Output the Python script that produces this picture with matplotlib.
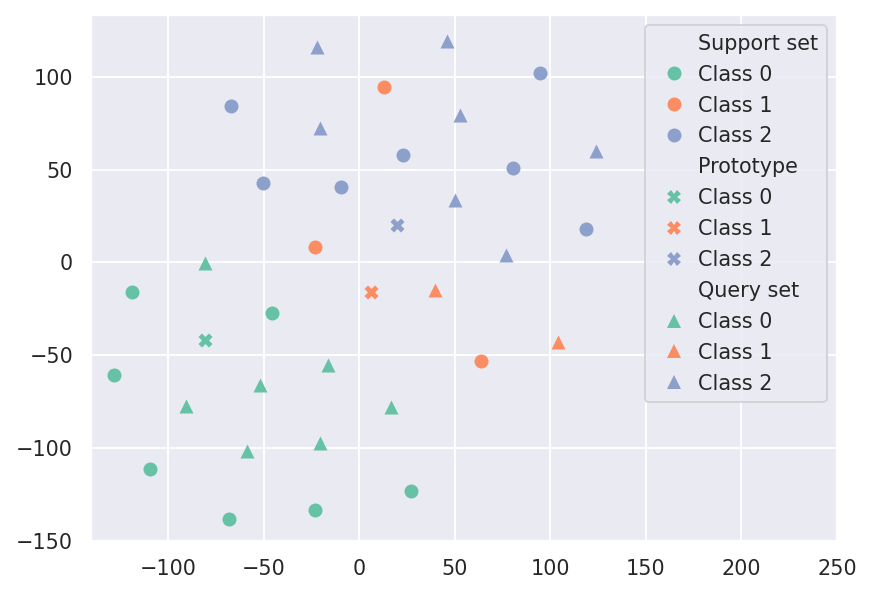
import numpy as np
import matplotlib
matplotlib.use("Agg")
import matplotlib.pyplot as plt
import seaborn as sns
from matplotlib.lines import Line2D

sns.set_theme(style="darkgrid")

classes = ["Class 0", "Class 1", "Class 2"]

# support set points per class
support_x = [
    [-119.1, -45.8, -128.5, -109.6, -68.3, -23.2, 27.0],
    [12.9, -23.2, 63.9],
    [-67.2, -50.5, -9.6, 22.8, 80.4, 94.5, 118.6],
]
support_y = [
    [-15.9, -27.2, -60.6, -111.3, -138.2, -133.4, -123.1],
    [94.5, 8.3, -53.1],
    [84.2, 42.7, 40.6, 57.9, 50.9, 101.9, 18.0],
]

# prototypes (one per class)
proto_x = [-80.8, 5.9, 19.7]
proto_y = [-41.8, -15.9, 20.1]

# query set points per class
query_x = [
    [-80.8, -90.8, -52.1, -16.4, -58.8, -20.6, 16.5],
    [39.7, 104.0],
    [-22.2, -20.6, 45.9, 52.7, 50.1, 76.8, 123.8],
]
query_y = [
    [-0.3, -77.3, -66.0, -55.2, -101.5, -97.2, -77.9],
    [-14.9, -42.9],
    [116.0, 72.4, 119.2, 79.4, 33.6, 4.0, 60.0],
]

colors = sns.color_palette("Set2", 3)

fig = plt.figure(figsize=(872 / 136, 597 / 136), dpi=136)
ax = fig.add_axes([0.1044, 0.0938, 0.8555, 0.8811])

for i in range(3):
    ax.scatter(support_x[i], support_y[i], marker="o", s=55, color=colors[i],
               linewidth=0, zorder=3)
    ax.scatter([proto_x[i]], [proto_y[i]], marker="X", s=55, color=colors[i],
               linewidth=0, zorder=3)
    ax.scatter(query_x[i], query_y[i], marker="^", s=55, color=colors[i],
               linewidth=0, zorder=3)

ax.set_xlim(-140.4, 250)
ax.set_ylim(-150, 133.2)
ax.set_xticks(np.arange(-100, 251, 50))
ax.set_yticks(np.arange(-150, 101, 50))

handles, labels = [], []
for title, m in [("Support set", "o"), ("Prototype", "X"), ("Query set", "^")]:
    handles.append(Line2D([], [], linestyle="none", marker=None))
    labels.append(title)
    for i, c in enumerate(classes):
        handles.append(Line2D([], [], linestyle="none", marker=m, markersize=7.4,
                              color=colors[i], markeredgewidth=0))
        labels.append(c)

ax.legend(handles, labels, loc="upper right", frameon=True,
          handletextpad=0.15, labelspacing=0.525)

fig.savefig("out.png", dpi=136)
